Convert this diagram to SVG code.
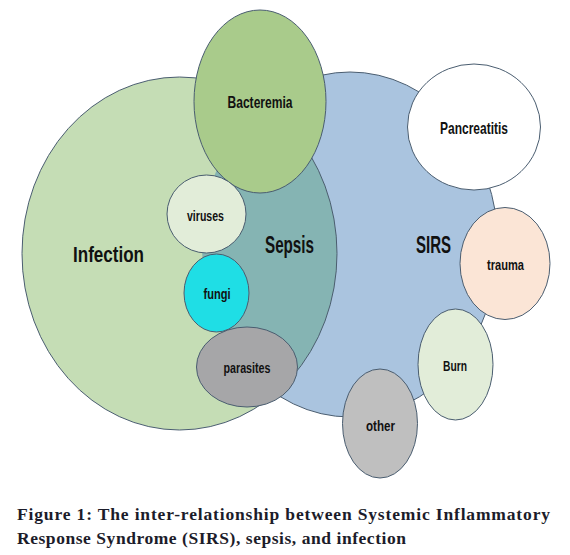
<svg xmlns="http://www.w3.org/2000/svg" width="570" height="555" viewBox="0 0 570 555">
<style>
.n{stroke:#4a5d70;stroke-width:1}
.l{font-family:"Liberation Sans",Arial,sans-serif;font-weight:bold;fill:#111;text-anchor:middle}
.cap{font-family:"Liberation Serif","Times New Roman",serif;font-weight:bold;font-size:17.5px;fill:#1c1c2a}
</style>
<defs>
<clipPath id="sirsClip"><ellipse cx="350" cy="244.5" rx="148" ry="172.5"/></clipPath>
</defs>
<rect width="570" height="555" fill="#ffffff"/>
<g id="sirs">
<ellipse class="n" cx="350" cy="244.5" rx="148" ry="172.5" fill="#aac4df"/>
</g>
<g id="infection">
<ellipse cx="179.5" cy="253.5" rx="157.5" ry="176.5" fill="#c5ddb5"/>
</g>
<g id="sepsis">
<ellipse cx="179.5" cy="253.5" rx="157.5" ry="176.5" fill="#85b4b3" clip-path="url(#sirsClip)"/>
<ellipse class="n" cx="179.5" cy="253.5" rx="157.5" ry="176.5" fill="none"/>
</g>
<g id="labels-main">
<text class="l" x="108.5" y="262" font-size="22.5" textLength="71" lengthAdjust="spacingAndGlyphs">Infection</text>
<text class="l" x="289.5" y="253" font-size="23" textLength="49" lengthAdjust="spacingAndGlyphs">Sepsis</text>
<text class="l" x="433.5" y="253" font-size="23" textLength="35" lengthAdjust="spacingAndGlyphs">SIRS</text>
</g>
<g id="bacteremia">
<ellipse class="n" cx="260" cy="101.5" rx="66" ry="91.5" fill="#a9cb8b"/>
<text class="l" x="260" y="108" font-size="17" textLength="65" lengthAdjust="spacingAndGlyphs">Bacteremia</text>
</g>
<g id="viruses">
<ellipse class="n" cx="206.5" cy="214" rx="39.5" ry="39" fill="#e2edd9"/>
<text class="l" x="205.5" y="221" font-size="15" textLength="37" lengthAdjust="spacingAndGlyphs">viruses</text>
</g>
<g id="fungi">
<ellipse class="n" cx="216.5" cy="293" rx="32.5" ry="39" fill="#1fdee5"/>
<text class="l" x="217" y="299" font-size="15" textLength="27" lengthAdjust="spacingAndGlyphs">fungi</text>
</g>
<g id="parasites">
<ellipse class="n" cx="247" cy="367" rx="50.5" ry="40" fill="#a6a6a8"/>
<text class="l" x="247" y="373" font-size="15" textLength="47" lengthAdjust="spacingAndGlyphs">parasites</text>
</g>
<g id="pancreatitis">
<ellipse class="n" cx="474" cy="127" rx="66.5" ry="63" fill="#ffffff"/>
<text class="l" x="474" y="134" font-size="17" textLength="68" lengthAdjust="spacingAndGlyphs">Pancreatitis</text>
</g>
<g id="trauma">
<ellipse class="n" cx="505" cy="263.5" rx="45" ry="56" fill="#fbe5d6"/>
<text class="l" x="505.5" y="270" font-size="15" textLength="37" lengthAdjust="spacingAndGlyphs">trauma</text>
</g>
<g id="burn">
<ellipse class="n" cx="455.5" cy="364.5" rx="37.5" ry="55.5" fill="#e2edd9"/>
<text class="l" x="455" y="371" font-size="15.5" textLength="24" lengthAdjust="spacingAndGlyphs">Burn</text>
</g>
<g id="other">
<ellipse class="n" cx="380" cy="423.5" rx="37.5" ry="54.5" fill="#bfbfbf"/>
<text class="l" x="380.5" y="431" font-size="15" textLength="29" lengthAdjust="spacingAndGlyphs">other</text>
</g>
<g id="caption">
<text class="cap" x="17" y="520" textLength="533" lengthAdjust="spacing">Figure 1: The inter-relationship between Systemic Inflammatory</text>
<text class="cap" x="17" y="544" textLength="389" lengthAdjust="spacing">Response Syndrome (SIRS), sepsis, and infection</text>
</g>
</svg>
